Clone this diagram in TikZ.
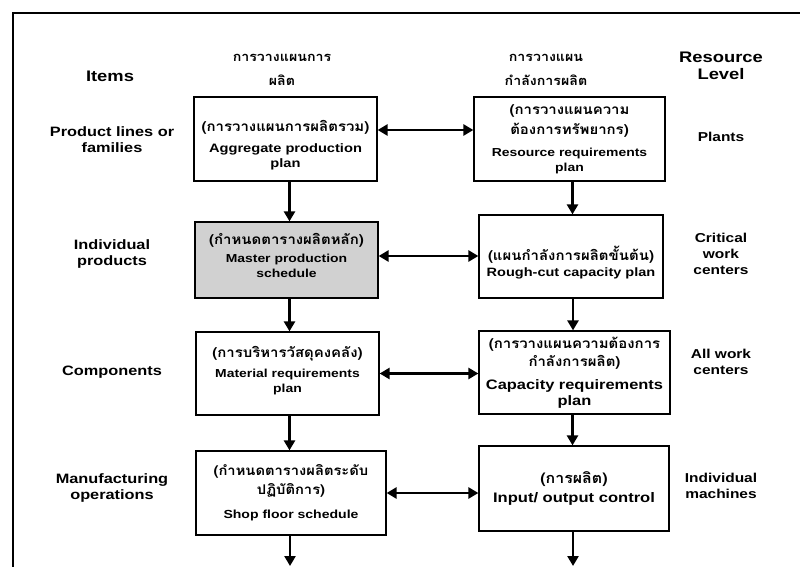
\documentclass[tikz,border=0pt]{standalone}
\usepackage{fontspec}
\setmainfont{Liberation Sans}[FakeStretch=1.2]
\newfontfamily\thai[Script=Thai,FakeStretch=1.1]{Loma}
\usetikzlibrary{arrows.meta}
% font switches used line by line inside the boxes
\newcommand\thl[1]{\thai\bfseries\fontsize{#1}{#1}\selectfont}
\newcommand\enl[1]{\normalfont\bfseries\fontsize{#1}{#1}\selectfont}

\begin{document}
\begin{tikzpicture}[x=1pt,y=-1pt,
  box/.style={draw, line width=1.2pt, align=center, inner sep=2pt,
              font=\bfseries\fontsize{11}{13}\selectfont},
  lab/.style={align=center, font=\bfseries\fontsize{13.6}{16}\selectfont},
  rlab/.style={align=center, font=\bfseries\fontsize{12.9}{16}\selectfont},
  arr/.style={line width=2.8pt, -{Triangle[length=10pt,width=11pt]}},
  darr/.style={line width=2.8pt, {Triangle[length=10pt,width=11pt]}-{Triangle[length=10pt,width=11pt]}}]

\useasboundingbox (0,0) rectangle (800,567);

% open frame: left and top edges
\draw[line width=1.8pt] (13,567) -- (13,13) -- (800,13);

% column headings
\node[align=center, font=\thai\bfseries\fontsize{12.9}{24}\selectfont] (hplan) at (282,70)
  {การวางแผนการ\\ผลิต};
\node[align=center, font=\thai\bfseries\fontsize{12.9}{24}\selectfont] (hcap) at (546,70)
  {การวางแผน\\กำลังการผลิต};
\node[lab, font=\bfseries\fontsize{15.3}{18}\selectfont] (hitems) at (110,76) {Items};
\node[lab, font=\bfseries\fontsize{15.3}{17}\selectfont] (hres) at (721,66) {Resource\\Level};

% planning column (struts and empty \mbox{} lines nudge the text block)
\node[box, minimum width=183, minimum height=84] (app) at (285.5,139)
  {\thl{13.6}\rule{0pt}{24pt}(การวางแผนการผลิตรวม)\\[8pt]\enl{12.2}Aggregate production\\[2pt]\enl{12.2}plan};
\node[box, fill=black!18, minimum width=183, minimum height=76] (mps) at (286.5,260)
  {\thl{13.6}(กำหนดตารางผลิตหลัก)\\[5pt]\enl{11.6}Master production\\[2pt]\enl{11.6}schedule\\[-4pt]\mbox{}};
\node[box, minimum width=183, minimum height=83] (mrp) at (287.5,373.5)
  {\thl{13.6}(การบริหารวัสดุคงคลัง)\\[7pt]\enl{11.6}Material requirements\\[2pt]\enl{11.6}plan\\[-5pt]\mbox{}};
\node[box, minimum width=190, minimum height=84] (sfs) at (291,493)
  {\thl{13.4}(กำหนดตารางผลิตระดับ\\[4pt]\thl{13.4}ปฏิบัติการ)\\[11pt]\enl{11.7}Shop floor schedule};

% capacity column
\node[box, minimum width=191, minimum height=84] (rrp) at (569.5,139)
  {\thl{13.6}(การวางแผนความ\\[5pt]\thl{13.6}ต้องการทรัพยากร)\\[9pt]\enl{11.6}Resource requirements\\[2pt]\enl{11.6}plan};
\node[box, minimum width=184, minimum height=83] (rccp) at (571,256.5)
  {\thl{13.6}\rule{0pt}{26pt}(แผนกำลังการผลิตขั้นต้น)\\[3pt]\enl{12.1}Rough-cut capacity plan};
\node[box, minimum width=191, minimum height=83] (crp) at (574.5,372.5)
  {\thl{13.6}(การวางแผนความต้องการ\\[3pt]\thl{13.6}กำลังการผลิต)\\[10pt]\enl{13.7}Capacity requirements\\[3pt]\enl{13.7}plan};
\node[box, minimum width=190, minimum height=85] (ioc) at (574,488.5)
  {\thl{14.5}(การผลิต)\\[5pt]\enl{13.8}Input/ output control};

% item levels
\node[lab] (l1) at (112,140) {Product lines or\\families};
\node[lab] (l2) at (112,254) {Individual\\products};
\node[lab] (l3) at (112,372) {Components};
\node[lab] (l4) at (112,488) {Manufacturing\\operations};

% resource levels
\node[rlab] (r1) at (721,137) {Plants};
\node[rlab] (r2) at (721,254) {Critical\\work\\centers};
\node[rlab] (r3) at (721,362) {All work\\centers};
\node[rlab] (r4) at (721,486) {Individual\\machines};

% free ends of the last arrows
\coordinate (sfsout) at (290,566);
\coordinate (iocout) at (573,566);

% downward flow
\draw[arr] ([xshift=4pt]app.south) -- ([xshift=4pt]app.south |- mps.north);
\draw[arr] ([xshift=3pt]mps.south) -- ([xshift=3pt]mps.south |- mrp.north);
\draw[arr] ([xshift=2pt]mrp.south) -- ([xshift=2pt]mrp.south |- sfs.north);
\draw[arr] (sfs.south -| sfsout) -- (sfsout);
\draw[arr] ([xshift=3pt]rrp.south) -- ([xshift=3pt]rrp.south |- rccp.north);
\draw[arr] ([xshift=2pt]rccp.south) -- ([xshift=2pt]rccp.south |- crp.north);
\draw[arr] ([xshift=-2pt]crp.south) -- ([xshift=-2pt]crp.south |- ioc.north);
\draw[arr] (ioc.south -| iocout) -- (iocout);

% links between the two columns
\draw[darr] ([yshift=9pt]app.east) -- ([yshift=9pt]app.east -| rrp.west);
\draw[darr] ([yshift=4pt]mps.east) -- ([yshift=4pt]mps.east -| rccp.west);
\draw[darr] (mrp.east) -- (mrp.east -| crp.west);
\draw[darr] (sfs.east) -- (sfs.east -| ioc.west);

\end{tikzpicture}
\end{document}
